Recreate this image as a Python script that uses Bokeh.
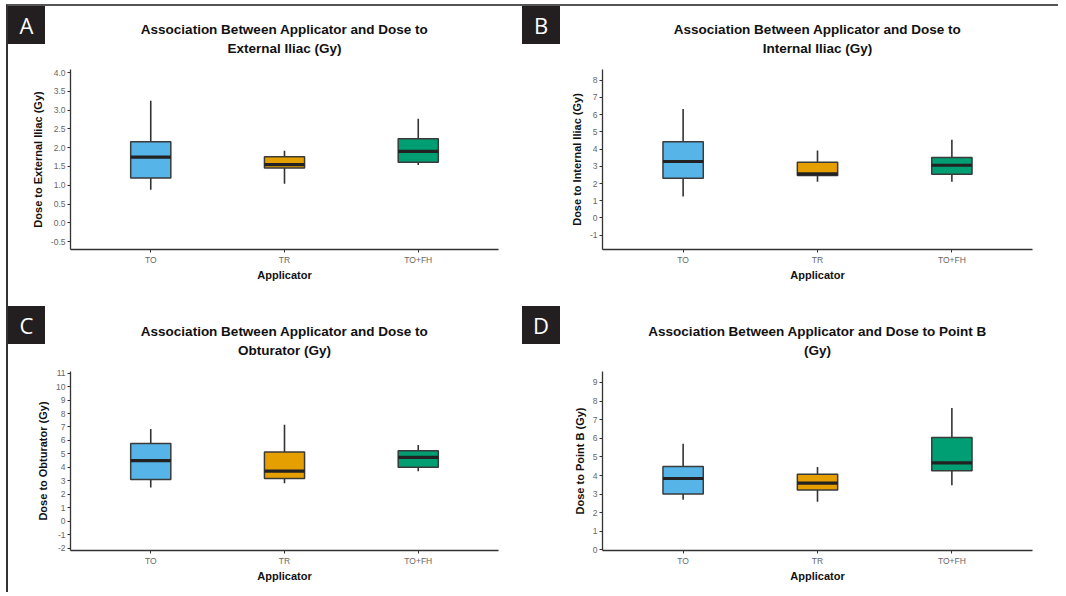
from bokeh.plotting import figure
from bokeh.models import (Range1d, FixedTicker, NumeralTickFormatter,
                          Title, GridBox, Div)
from bokeh.embed import file_html
from bokeh.resources import INLINE

# ---------------- data ----------------
applicators = ["TO", "TR", "TO+FH"]
box_colors = ["#56B4E9", "#E69F00", "#009E73"]

ext_low = [0.88, 1.04, 1.54]
ext_q1 = [1.19, 1.46, 1.61]
ext_med = [1.75, 1.55, 1.90]
ext_q3 = [2.16, 1.76, 2.24]
ext_high = [3.25, 1.92, 2.77]

int_low = [1.25, 2.10, 2.10]
int_q1 = [2.31, 2.47, 2.54]
int_med = [3.28, 2.56, 3.06]
int_q3 = [4.42, 3.24, 3.51]
int_high = [6.32, 3.92, 4.54]

obt_low = [2.51, 2.83, 3.72]
obt_q1 = [3.10, 3.17, 4.01]
obt_med = [4.50, 3.72, 4.75]
obt_q3 = [5.78, 5.14, 5.24]
obt_high = [6.86, 7.16, 5.66]

ptb_low = [2.70, 2.59, 3.48]
ptb_q1 = [3.00, 3.22, 4.25]
ptb_med = [3.84, 3.59, 4.68]
ptb_q3 = [4.48, 4.07, 6.04]
ptb_high = [5.71, 4.46, 7.63]

ext_ticks = [-0.5, 0.0, 0.5, 1.0, 1.5, 2.0, 2.5, 3.0, 3.5, 4.0]
int_ticks = [-1, 0, 1, 2, 3, 4, 5, 6, 7, 8]
obt_ticks = [-2, -1, 0, 1, 2, 3, 4, 5, 6, 7, 8, 9, 10, 11]
ptb_ticks = [0, 1, 2, 3, 4, 5, 6, 7, 8, 9]

panel_letters = ["A", "B", "C", "D"]

BOX_W = 0.3
AX = "#333333"


def panel(title1, title2, ylabel, low, q1, med, q3, high, ticks, yr,
          fmt, size, borders):
    w, h = size
    left, right, top, bottom = borders
    p = figure(width=w, height=h, output_backend="svg",
               toolbar_location=None,
               x_range=Range1d(0.4, 3.6), y_range=Range1d(*yr),
               min_border_left=left, min_border_right=right,
               min_border_top=top, min_border_bottom=bottom)
    tstyle = dict(align="center", text_font="Liberation Sans",
                  text_font_style="bold", text_font_size="13.5px",
                  text_color="#111111")
    p.title.text = title1
    for k, v in tstyle.items():
        setattr(p.title, k, v)
    p.title.standoff = 2
    # spacer nearest the frame, then the second title line
    p.add_layout(Title(text=" ", text_font_size="1px", standoff=9,
                       align="center"), "above")
    p.add_layout(Title(text=title2, standoff=3, **tstyle), "above")
    p.outline_line_color = None
    p.xgrid.visible = False
    p.ygrid.visible = False
    p.background_fill_color = "white"
    p.border_fill_color = "white"

    xs = list(range(1, len(applicators) + 1))
    x0 = [x - BOX_W / 2 for x in xs]
    x1 = [x + BOX_W / 2 for x in xs]
    # whiskers
    p.segment(x0=xs, x1=xs, y0=q3, y1=high, line_color=AX, line_width=1.6)
    p.segment(x0=xs, x1=xs, y0=q1, y1=low, line_color=AX, line_width=1.6)
    # boxes
    p.vbar(x=xs, width=BOX_W, bottom=q1, top=q3, fill_color=box_colors,
           line_color="#3a3a3a", line_width=1.5)
    # medians
    p.segment(x0=x0, x1=x1, y0=med, y1=med, line_color="#222222",
              line_width=3.2)

    p.xaxis.ticker = FixedTicker(ticks=xs)
    p.xaxis.major_label_overrides = {x: a for x, a in zip(xs, applicators)}
    p.xaxis.axis_label = "Applicator"
    p.yaxis.axis_label = ylabel
    p.yaxis.ticker = FixedTicker(ticks=ticks)
    p.yaxis.formatter = NumeralTickFormatter(format=fmt)
    for ax in (p.xaxis[0], p.yaxis[0]):
        ax.axis_line_color = AX
        ax.axis_line_width = 1.3
        ax.major_tick_line_color = AX
        ax.major_tick_out = 3
        ax.major_tick_in = 0
        ax.minor_tick_line_color = None
        ax.major_label_text_font = "Liberation Sans"
        ax.major_label_text_font_size = "8.5px"
        ax.major_label_text_color = "#666666"
        ax.axis_label_text_font = "Liberation Sans"
        ax.axis_label_text_font_style = "bold"
        ax.axis_label_text_font_size = "11px"
        ax.axis_label_text_color = "#111111"
        ax.major_label_standoff = 2
    p.xaxis.axis_label_standoff = 1
    p.yaxis.axis_label_standoff = 4
    return p


def letter_box(letter, w, h):
    return Div(text=letter, width=w, height=h, align="start", margin=0,
               styles={"background-color": "#231f20", "color": "white",
                       "font-family": "'Open Sans', sans-serif",
                       "font-size": "22px", "text-align": "center",
                       "line-height": f"{h}px", "z-index": "5"})


pa = panel("Association Between Applicator and Dose to",
           "External Iliac (Gy)",
           "Dose to External Iliac (Gy)", ext_low, ext_q1, ext_med, ext_q3,
           ext_high, ext_ticks, (-0.71, 4.08), "0.0", (514, 300),
           (62, 24, 63, 57))
pb = panel("Association Between Applicator and Dose to",
           "Internal Iliac (Gy)",
           "Dose to Internal Iliac (Gy)", int_low, int_q1, int_med, int_q3,
           int_high, int_ticks, (-1.83, 8.62), "0", (536, 300),
           (80, 26, 63, 57))
pc = panel("Association Between Applicator and Dose to",
           "Obturator (Gy)",
           "Dose to Obturator (Gy)", obt_low, obt_q1, obt_med, obt_q3,
           obt_high, obt_ticks, (-2.17, 11.12), "0", (514, 286),
           (57, 23, 65, 41))
pd_ = panel("Association Between Applicator and Dose to Point B",
            "(Gy)",
            "Dose to Point B (Gy)", ptb_low, ptb_q1, ptb_med, ptb_q3,
            ptb_high, ptb_ticks, (-0.03, 9.59), "0", (536, 286),
            (77, 26, 65, 42))

la = letter_box(panel_letters[0], 37, 38)
lb = letter_box(panel_letters[1], 38, 38)
lc = letter_box(panel_letters[2], 37, 38)
ld = letter_box(panel_letters[3], 38, 38)

grid = GridBox(children=[(pa, 0, 0), (pb, 0, 1), (pc, 1, 0), (pd_, 1, 1),
                         (la, 0, 0), (lb, 0, 1), (lc, 1, 0), (ld, 1, 1)],
               spacing=0)
grid.styles = {"margin-left": "6px", "margin-top": "4px",
               "border-top": "2px solid #555555",
               "border-left": "2px solid #333333"}

open("out.html", "w").write(file_html(grid, INLINE))
